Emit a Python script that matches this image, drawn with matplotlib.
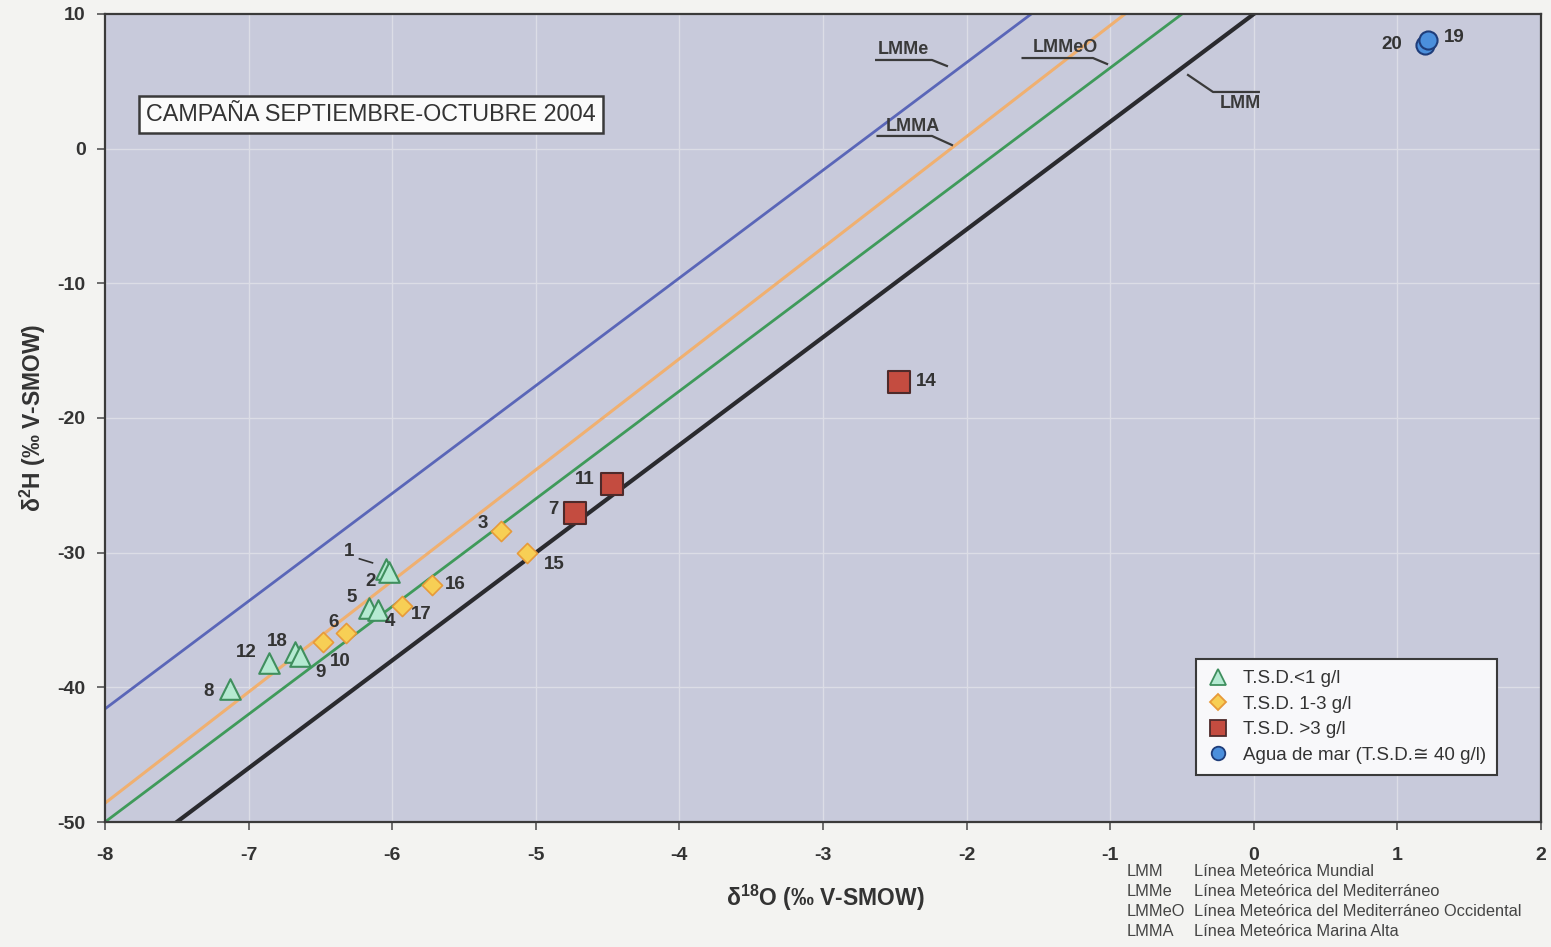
import matplotlib
matplotlib.use("Agg")
import matplotlib.pyplot as plt
import numpy as np
from matplotlib.lines import Line2D

plt.rcParams['font.family'] = ['Liberation Sans', 'DejaVu Sans']
plt.rcParams['mathtext.fontset'] = 'custom'
plt.rcParams['mathtext.rm'] = 'Liberation Sans'
plt.rcParams['mathtext.bf'] = 'Liberation Sans:bold'
plt.rcParams['mathtext.default'] = 'bf'
plt.rcParams['axes.unicode_minus'] = False

# --- samples: (label, d18O, d2H) -------------------------------------------
tsd_low_ids = ['1', '2', '5', '4', '18', '9', '12', '8']
tsd_low_d18o = [-6.04, -6.02, -6.16, -6.10, -6.68, -6.64, -6.86, -7.13]
tsd_low_d2h = [-31.2, -31.4, -34.1, -34.25, -37.4, -37.7, -38.2, -40.1]

tsd_mid_ids = ['6', '10', '17', '16', '3', '15']
tsd_mid_d18o = [-6.48, -6.32, -5.93, -5.72, -5.24, -5.06]
tsd_mid_d2h = [-36.6, -35.95, -33.95, -32.4, -28.4, -30.0]

tsd_high_ids = ['7', '11', '14']
tsd_high_d18o = [-4.73, -4.47, -2.47]
tsd_high_d2h = [-27.05, -24.9, -17.3]

sea_ids = ['20', '19']
sea_d18o = [1.19, 1.21]
sea_d2h = [7.7, 8.07]

# meteoric water lines: d2H = slope * d18O + excess
line_names = ['LMMe', 'LMMA', 'LMMeO', 'LMM']
line_slopes = [8.0, 8.25, 8.0, 8.0]
line_excess = [22.4, 17.4, 14.0, 10.0]
line_colors = ['#5a66b8', '#f0b070', '#3f9a5a', '#2a2a2e']
line_widths = [2.0, 2.2, 2.0, 3.0]

# label offsets (pixels) relative to each marker
label_offsets = {
    '1': (-37, 17), '2': (-19, -10), '5': (-18, 10), '4': (12, -12),
    '18': (-17, 11), '9': (20, -16), '12': (-22, 11), '8': (-21, -3),
    '6': (10, 19), '10': (-6, -29), '17': (19, -9), '16': (23, 0),
    '3': (-19, 8), '15': (27, -12),
    '7': (-21, 3), '11': (-27, 4), '14': (27, 0),
    '20': (-33, 0), '19': (27, 2),
}

legend_labels = ['T.S.D.<1 g/l', 'T.S.D. 1-3 g/l', 'T.S.D. >3 g/l',
                 'Agua de mar (T.S.D.\u2245 40 g/l)']

notes_abbr = ['LMM', 'LMMe', 'LMMeO', 'LMMA']
notes_desc = ['Línea Meteórica Mundial',
              'Línea Meteórica del Mediterráneo',
              'Línea Meteórica del Mediterráneo Occidental',
              'Línea Meteórica Marina Alta']

title_text = 'CAMPAÑA SEPTIEMBRE-OCTUBRE 2004'

# --- figure ------------------------------------------------------------------
W, H = 1551, 947
fig = plt.figure(figsize=(W / 100, H / 100), dpi=100, facecolor='#f3f3f1')
ax = fig.add_axes([105 / W, 1 - 822 / H, (1541 - 105) / W, (822 - 14) / H])
ax.set_facecolor('#c8cadb')
ax.set_xlim(-8, 2)
ax.set_ylim(-50, 10)
ax.set_xticks(np.arange(-8, 3, 1))
ax.set_yticks(np.arange(-50, 11, 10))
ax.grid(True, color='#dcdde6', lw=1.0, zorder=0)
ax.set_axisbelow(True)
for s in ax.spines.values():
    s.set_color('#3a3a3a')
    s.set_linewidth(1.6)
ax.tick_params(direction='out', length=6, width=1.2, color='#555555',
               labelsize=14, labelcolor='#333333', pad=8)
for lab in ax.get_xticklabels() + ax.get_yticklabels():
    lab.set_fontweight('bold')
ax.tick_params(axis='x', pad=12)

# meteoric lines
xx = np.array([-8.0, 2.0])
for name, m, d, c, w in zip(line_names, line_slopes, line_excess, line_colors, line_widths):
    ax.plot(xx, m * xx + d, color=c, lw=w, zorder=2, solid_capstyle='butt')

# line labels with callout leaders
callouts = [
    ('LMMe', (-2.443, 7.33), [(-2.63, 6.585), (-2.241, 6.585), (-2.137, 6.14)]),
    ('LMMeO', (-1.315, 7.48), [(-1.61, 6.73), (-1.12, 6.73), (-1.022, 6.29)]),
    ('LMMA', (-2.373, 1.61), [(-2.62, 0.943), (-2.241, 0.943), (-2.102, 0.27)]),
    ('LMM', (-0.096, 3.32), [(-0.458, 5.47), (-0.284, 4.21), (0.035, 4.21)]),
]
for txt, pos, pts in callouts:
    ax.text(pos[0], pos[1], txt, ha='center', va='center', fontsize=13,
            fontweight='bold', color='#3a3a3a', zorder=5)
    px, py = zip(*pts)
    ax.plot(px, py, color='#3a3a3a', lw=1.6, zorder=5)

# sample markers
groups = [
    (tsd_low_ids, tsd_low_d18o, tsd_low_d2h,
     dict(marker='^', s=220, facecolor='#b5ead2', edgecolor='#3f8f5e', linewidth=1.5)),
    (tsd_mid_ids, tsd_mid_d18o, tsd_mid_d2h,
     dict(marker='D', s=105, facecolor='#f7cf55', edgecolor='#e79a3a', linewidth=1.2)),
    (tsd_high_ids, tsd_high_d18o, tsd_high_d2h,
     dict(marker='s', s=240, facecolor='#c44c40', edgecolor='#4e2a2a', linewidth=1.5)),
    (sea_ids, sea_d18o, sea_d2h,
     dict(marker='o', s=170, facecolor='#4b8fdc', edgecolor='#1f3d7a', linewidth=1.5)),
]
handles = []
for ids, xs, ys, style in groups:
    ax.scatter(xs, ys, zorder=6, **style)
    for i, x, y in zip(ids, xs, ys):
        dx, dy = label_offsets[i]
        ax.annotate(i, (x, y), xytext=(dx, dy), textcoords='offset pixels',
                    ha='center', va='center', fontsize=13.5, fontweight='bold',
                    color='#333333', zorder=7)
    handles.append(Line2D([], [], linestyle='none', marker=style['marker'],
                          markersize=np.sqrt(style['s']) * 0.75,
                          markerfacecolor=style['facecolor'],
                          markeredgecolor=style['edgecolor'],
                          markeredgewidth=1.3))

# leader for sample 1
p1 = ax.transData.transform((tsd_low_d18o[0], tsd_low_d2h[0]))
a = ax.transData.inverted().transform((p1[0] - 27, p1[1] + 10))
b = ax.transData.inverted().transform((p1[0] - 14, p1[1] + 6))
ax.plot([a[0], b[0]], [a[1], b[1]], color='#333333', lw=1.2, zorder=7)

# title box
ax.text(-8 + (371 - 105) / 143.6, 10 - (115 - 14) / 13.467, title_text,
        ha='center', va='center', fontsize=16.8, color='#333333',
        bbox=dict(boxstyle='square,pad=0.3', facecolor='#fbfbfb',
                  edgecolor='#3a3a3a', linewidth=1.8), zorder=8)

# legend
leg = ax.legend(handles, legend_labels, loc='lower right',
                bbox_to_anchor=((1497 - 105) / 1436, 1 - (775 - 14) / 808),
                fontsize=13.5, frameon=True, fancybox=False, framealpha=1,
                handletextpad=0.7, labelspacing=0.45, borderpad=0.6,
                handlelength=1.2, borderaxespad=0)
leg.get_frame().set_facecolor('#f8f8fa')
leg.get_frame().set_edgecolor('#3a3a3a')
leg.get_frame().set_linewidth(1.5)
for t in leg.get_texts():
    t.set_color('#333333')

# axis labels
fig.text(825 / W, 1 - 898 / H, r'$\delta^{18}$O (‰ V-SMOW)', ha='center', va='center',
         fontsize=16.5, fontweight='bold', color='#333333')
fig.text(33 / W, 1 - 418 / H, r'$\delta^{2}$H (‰ V-SMOW)', ha='center', va='center',
         rotation=90, fontsize=16.5, fontweight='bold', color='#333333')

# abbreviation notes
for k, (ab, de) in enumerate(zip(notes_abbr, notes_desc)):
    yy = 1 - (871 + 20 * k) / H
    fig.text(1127 / W, yy, ab, ha='left', va='center', fontsize=11.8, color='#444444')
    fig.text(1194 / W, yy, de, ha='left', va='center', fontsize=11.8, color='#444444')

fig.savefig('out.png', dpi=100, facecolor=fig.get_facecolor())
